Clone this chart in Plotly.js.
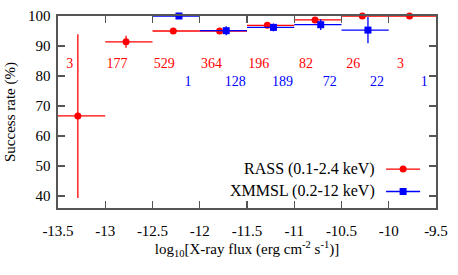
<!DOCTYPE html>
<html>
<head>
<meta charset="utf-8">
<script src="https://cdn.plot.ly/plotly-3.0.1.min.js"></script>
<style>html,body{margin:0;padding:0;background:#fff;}#plot{width:458px;height:275px;}</style>
</head>
<body>
<div id="plot"></div>
<script>
// ---- data ----
var rassBinLeft = [-13.5, -13.0, -12.5, -12.0, -11.5, -11.0, -10.5, -10.0];
var rassX = [-13.29, -12.78, -12.28, -11.79, -11.285, -10.78, -10.28, -9.78];
var rassY = [66.7, 91.4, 95.0, 95.0, 96.9, 98.7, 100, 100];
var rassErrUp = [27.2, 2.0, 0.5, 0.8, 0.9, 0.8, 0, 0];
var rassErrDown = [27.4, 2.0, 0.5, 0.8, 0.9, 0.8, 0, 0];
var rassN = ["3", "177", "529", "364", "196", "82", "26", "3"];

var xmmBinLeft = [-12.5, -12.0, -11.5, -11.0, -10.5, -10.0];
var xmmX = [-12.22, -11.72, -11.22, -10.72, -10.22, null];
var xmmY = [100, 95.1, 96.2, 97.1, 95.3, null];
var xmmErr = [0, 1.5, 1.3, 1.8, 4.4, 0];
var xmmN = ["1", "128", "189", "72", "22", "1"];

var binWidth = 0.5;
var xTicks = [-13.5, -13, -12.5, -12, -11.5, -11, -10.5, -10, -9.5];
var xTickText = ["-13.5", "-13", "-12.5", "-12", "-11.5", "-11", "-10.5", "-10", "-9.5"];
var yTicks = [40, 50, 60, 70, 80, 90, 100];

var RED = "#ff0000", BLUE = "#0000ff";
var FONT = "Liberation Serif";

function minusArr(xs, lefts) { return xs.map(function (x, i) { return x === null ? 0 : x - lefts[i]; }); }
function plusArr(xs, lefts) { return xs.map(function (x, i) { return x === null ? 0 : lefts[i] + binWidth - x; }); }

var traces = [
  {
    x: rassX, y: rassY, type: "scatter", mode: "markers", cliponaxis: false,
    marker: { color: RED, size: 7, symbol: "circle" },
    error_x: { type: "data", symmetric: false, array: plusArr(rassX, rassBinLeft), arrayminus: minusArr(rassX, rassBinLeft), color: RED, thickness: 1.3, width: 0 },
    error_y: { type: "data", symmetric: false, array: rassErrUp, arrayminus: rassErrDown, color: RED, thickness: 1.3, width: 0 },
    showlegend: false, hoverinfo: "skip"
  },
  {
    x: xmmX, y: xmmY, type: "scatter", mode: "markers", cliponaxis: false,
    marker: { color: BLUE, size: 7, symbol: "square" },
    error_x: { type: "data", symmetric: false, array: plusArr(xmmX, xmmBinLeft), arrayminus: minusArr(xmmX, xmmBinLeft), color: BLUE, thickness: 1.3, width: 0 },
    error_y: { type: "data", symmetric: true, array: xmmErr, color: BLUE, thickness: 1.3, width: 0 },
    showlegend: false, hoverinfo: "skip"
  },
  {
    x: rassBinLeft.map(function (l) { return l + binWidth / 2 - 0.125; }),
    y: rassN.map(function () { return 84; }),
    text: rassN, type: "scatter", mode: "text", cliponaxis: false,
    textfont: { family: FONT, size: 14, color: RED },
    showlegend: false, hoverinfo: "skip"
  },
  {
    x: xmmBinLeft.map(function (l) { return l + binWidth / 2 + 0.125; }),
    y: xmmN.map(function () { return 78; }),
    text: xmmN, type: "scatter", mode: "text", cliponaxis: false,
    textfont: { family: FONT, size: 14, color: BLUE },
    showlegend: false, hoverinfo: "skip"
  }
];

var axisCommon = {
  showgrid: false, zeroline: false, showline: true, linecolor: "#555", linewidth: 1.6,
  ticks: "inside", ticklen: 7, tickwidth: 1.4, tickcolor: "#555", mirror: "ticks",
  tickfont: { family: FONT, size: 15, color: "#000" }
};

var layout = {
  width: 458, height: 275,
  margin: { l: 58, r: 22, t: 16, b: 67 },
  paper_bgcolor: "#fff", plot_bgcolor: "#fff",
  showlegend: false,
  xaxis: Object.assign({}, axisCommon, {
    range: [-13.5, -9.5], tickmode: "array", tickvals: xTicks, ticktext: xTickText,
    ticklabelstandoff: 8,
    title: { text: "log<sub>10</sub>[X-ray flux (erg cm<sup>-2</sup> s<sup>-1</sup>)]", font: { family: FONT, size: 15, color: "#000" }, standoff: 6 }
  }),
  yaxis: Object.assign({}, axisCommon, {
    range: [36, 100], tickmode: "array", tickvals: yTicks,
    ticklabelstandoff: 3,
    title: { text: "Success rate (%)", font: { family: FONT, size: 15, color: "#000" }, standoff: 8 }
  }),
  annotations: [
    { xref: "paper", yref: "paper", x: 0.843, y: 0.2025, xanchor: "right", yanchor: "middle", showarrow: false,
      text: "RASS (0.1-2.4 keV)", font: { family: FONT, size: 16, color: "#000" } },
    { xref: "paper", yref: "paper", x: 0.843, y: 0.086, xanchor: "right", yanchor: "middle", showarrow: false,
      text: "XMMSL (0.2-12 keV)", font: { family: FONT, size: 16, color: "#000" } }
  ],
  shapes: [
    { type: "line", xref: "paper", yref: "paper", x0: 0.868, x1: 0.958, y0: 0.2025, y1: 0.2025, line: { color: RED, width: 1.3 } },
    { type: "circle", xref: "paper", yref: "paper", xsizemode: "pixel", ysizemode: "pixel", xanchor: 0.913, yanchor: 0.2025,
      x0: -3.5, x1: 3.5, y0: -3.5, y1: 3.5, fillcolor: RED, line: { width: 0 } },
    { type: "line", xref: "paper", yref: "paper", x0: 0.868, x1: 0.958, y0: 0.086, y1: 0.086, line: { color: BLUE, width: 1.3 } },
    { type: "rect", xref: "paper", yref: "paper", xsizemode: "pixel", ysizemode: "pixel", xanchor: 0.913, yanchor: 0.086,
      x0: -3.5, x1: 3.5, y0: -3.5, y1: 3.5, fillcolor: BLUE, line: { width: 0 } }
  ]
};

Plotly.newPlot("plot", traces, layout, { staticPlot: true, displayModeBar: false });
</script>
</body>
</html>
